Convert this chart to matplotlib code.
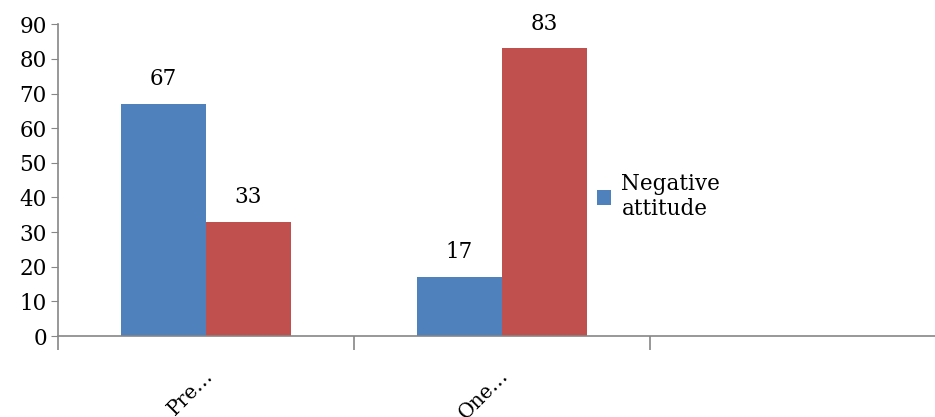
import numpy as np
import matplotlib.pyplot as plt

categories = ["Pre…", "One…"]
negative = [67, 17]
positive = [33, 83]
yticks = list(range(0, 100, 10))

plt.rcParams['font.family'] = ['DejaVu Serif']
fs = 15.5

fig = plt.figure(figsize=(9.35, 4.17), dpi=100)
ax = fig.add_axes([0.062, 0.194, 0.9495, 0.748])

x = np.arange(len(categories))
w = 0.287
b1 = ax.bar(x - w / 2, negative, w, color='#4F81BD', label='Negative attitude')
b2 = ax.bar(x + w / 2, positive, w, color='#C0504D', label='Positive attitude')

for bars, vals in ((b1, negative), (b2, positive)):
    for rect, v in zip(bars, vals):
        ax.annotate(str(v), (rect.get_x() + rect.get_width() / 2, v),
                    xytext=(0, 10), textcoords='offset points',
                    ha='center', va='bottom', fontsize=fs)

ax.set_xlim(-0.5, 2.5)
ax.set_ylim(0, 90)
ax.set_yticks(yticks)
ax.tick_params(axis='y', labelsize=fs, length=5, color='#868686', pad=3)

# category boundaries get the tick marks, names sit under each group
ax.set_xticks([-0.5, 0.5, 1.5, 2.5])
ax.set_xticklabels([])
ax.tick_params(axis='x', length=10, color='#868686', width=1.2)
for xi, name in zip(x, categories):
    ax.text(xi - 0.01, -8.7, name, rotation=45, ha='right', va='top',
            fontsize=14.5, rotation_mode='anchor', transform=ax.transData,
            clip_on=False)

for side in ('top', 'right'):
    ax.spines[side].set_visible(False)
for side in ('left', 'bottom'):
    ax.spines[side].set_color('#868686')
    ax.spines[side].set_linewidth(1.2)

ax.legend(handles=[b1], labels=['Negative\nattitude'], loc='upper left',
          bbox_to_anchor=(0.585, 0.585), frameon=False, fontsize=fs,
          handlelength=0.65, handleheight=0.65, handletextpad=0.5,
          labelspacing=0.2)

fig.savefig('out.png', dpi=100)
